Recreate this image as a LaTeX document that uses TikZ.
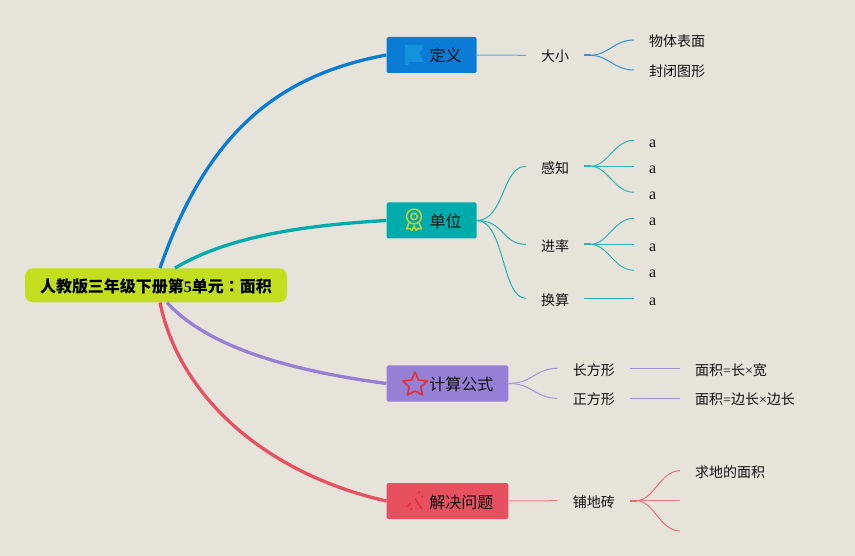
\documentclass[tikz,border=0pt]{standalone}
\usepackage{fontspec}
\setmainfont{Liberation Serif}
\newfontfamily\cjk{Noto Sans CJK SC}
\newfontfamily\cjktc{Noto Sans CJK TC}
\definecolor{bgc}{HTML}{E6E3DB}
\definecolor{rootc}{HTML}{C2DE1E}
\definecolor{bluec}{HTML}{0A7CD6}
\definecolor{tealc}{HTML}{00ABAB}
\definecolor{purpc}{HTML}{9480D4}
\definecolor{redc}{HTML}{E6505F}
\definecolor{txt}{HTML}{111111}
\definecolor{flagc}{HTML}{1592DE}
\definecolor{medalc}{HTML}{C8D030}
\definecolor{iconred}{HTML}{E0303C}
\tikzset{
  x=1pt,y=-1pt,
  rootbox/.style={rectangle,rounded corners=8pt,fill=rootc,minimum width=262pt,minimum height=34pt,inner sep=0pt,text=black,font=\fontsize{16}{16}\selectfont\cjk\bfseries,text height=14.5pt,text depth=0.5pt},
  branchbox/.style={rectangle,rounded corners=1.5pt,fill=#1,minimum height=36pt,inner xsep=15pt,inner ysep=0pt,align=right,text=txt,font=\fontsize{16}{16}\selectfont\cjk,text height=14.5pt,text depth=0.5pt},
  subtxt/.style={rectangle,inner xsep=0pt,inner ysep=0pt,text=txt,font=\fontsize{14}{14}\selectfont\cjk,text height=13pt,text depth=0.4pt,align=center},
  subtxtlow/.style={subtxt,text height=14pt,text depth=0.4pt},
  leaftxt/.style={subtxt,anchor=west,inner xsep=15pt},
  atxt/.style={leaftxt,font=\fontsize{16}{16}\selectfont\rmfamily,text height=14pt,text depth=0.4pt},
  trunk/.style={draw=#1,line width=3.3pt},
  twig/.style={draw=#1,line width=1pt},
  stub/.style={draw=#1,line width=2pt},
}
\begin{document}
\begin{tikzpicture}
\useasboundingbox (0,0) rectangle (855,556);
\fill[bgc] (0,0) rectangle (855,556);
% main nodes
\node[rootbox] (root) at (156,285.3) {人教版三年级下册第{\rmfamily 5}单元{\cjktc\bfseries ：}面积};
\node[branchbox=bluec,text width=60pt] (dy) at (431.5,55) {定义};
\node[branchbox=tealc,text width=60pt] (dw) at (431.5,220.5) {单位};
\node[branchbox=purpc,text width=91.6pt] (js) at (447.5,383.5) {计算公式};
\node[branchbox=redc,text width=91.6pt] (jj) at (447.5,501) {解决问题};
% second level
\node[subtxt,minimum width=58pt] (dx) at (555,55.3) {大小};
\node[subtxtlow,minimum width=58pt] (gz) at (555,166.3) {感知};
\node[subtxtlow,minimum width=58pt] (jl) at (555,244.3) {进率};
\node[subtxtlow,minimum width=58pt] (hs) at (555,298.3) {换算};
\node[subtxtlow,minimum width=72.3pt] (cfx) at (593.8,368.3) {长方形};
\node[subtxt,minimum width=72.3pt] (zfx) at (593.8,398.3) {正方形};
\node[subtxt,minimum width=72.3pt] (pdz) at (593.8,500.7) {铺地砖};
% leaves
\node[leaftxt] (l1) at (634,40) {物体表面};
\node[leaftxt] (l2) at (634,70) {封闭图形};
\node[atxt] (a1) at (634,140.3) {a};
\node[atxt] (a2) at (634,166.3) {a};
\node[atxt] (a3) at (634,192.3) {a};
\node[atxt] (a4) at (634,218.3) {a};
\node[atxt] (a5) at (634,244.3) {a};
\node[atxt] (a6) at (634,270.3) {a};
\node[atxt] (a7) at (634,298.3) {a};
\node[leaftxt,text height=14pt] (f1) at (680,368.3) {面积{\rmfamily =}长{\rmfamily ×}宽};
\node[leaftxt] (f2) at (680,398.3) {面积{\rmfamily =}边长{\rmfamily ×}边长};
\node[leaftxt] (q1) at (680,470.7) {求地的面积};
\coordinate (q2) at (680,500.7);
\coordinate (q3) at (680,531);
% trunks
\draw[trunk=bluec] ([xshift=4pt]root.north) .. controls (208,130) and (280,75) .. (dy.west);
\draw[trunk=tealc] ([xshift=19pt]root.north) .. controls (230,235) and (310,225) .. (dw.west);
\draw[trunk=purpc] ([xshift=11pt]root.south) .. controls (210,350) and (300,372) .. (js.west);
\draw[trunk=redc] ([xshift=4pt]root.south) .. controls (180,400) and (270,475) .. (jj.west);
% blue twigs
\draw[twig=bluec!60!bgc] (dy.east) -- (dx.west);
\foreach \e in {l1,l2}
  \draw[twig=bluec!80!bgc] ([xshift=6pt]dx.east) .. controls +(18,0) and +(-20,0) .. (\e.west);
\draw[stub=bluec!80!bgc] (dx.east) -- +(7,0);
% teal twigs
\foreach \e in {gz,jl,hs}
  \draw[twig=tealc!85!bgc] (dw.east) .. controls +(28,0) and +(-24,0) .. (\e.west);
\foreach \e in {a1,a2,a3}
  \draw[twig=tealc!80!bgc] ([xshift=6pt]gz.east) .. controls +(18,0) and +(-20,0) .. (\e.west);
\foreach \e in {a4,a5,a6}
  \draw[twig=tealc!80!bgc] ([xshift=6pt]jl.east) .. controls +(18,0) and +(-20,0) .. (\e.west);
\draw[twig=tealc!85!bgc] (hs.east) -- (a7.west);
\draw[stub=tealc!80!bgc] (gz.east) -- +(7,0);
\draw[stub=tealc!80!bgc] (jl.east) -- +(7,0);
% purple twigs
\foreach \e in {cfx,zfx}
  \draw[twig=purpc!80!bgc] (js.east) .. controls +(24,0) and +(-22,0) .. (\e.west);
\draw[twig=purpc!85!bgc] (cfx.east) -- (f1.west);
\draw[twig=purpc!85!bgc] (zfx.east) -- (f2.west);
% red twigs
\draw[twig=redc!70!bgc] (jj.east) -- (pdz.west);
\draw[twig=redc!80!bgc] ([xshift=6pt]pdz.east) .. controls +(18,0) and +(-20,0) .. (q1.west);
\draw[twig=redc!70!bgc] (pdz.east) -- (q2);
\draw[twig=redc!80!bgc] ([xshift=6pt]pdz.east) .. controls +(18,0) and +(-20,0) .. (q3);
\draw[stub=redc!80!bgc] (pdz.east) -- +(7,0);
% flag icon
\fill[flagc] (405,45) -- (424,45) -- (419.5,53.5) -- (424,62) -- (408.5,62) -- (408.5,65) -- (405,65) -- cycle;
% medal icon
\begin{scope}[draw=medalc,line width=1.5pt]
  \draw (414,216.5) circle (7.4pt);
  \draw (414,216.5) circle (3.2pt);
  \draw[line join=round] (409,223) -- (406.5,229) -- (410,228.5) -- (412,230.5) -- (414,226) -- (416,230.5) -- (418,228.5) -- (421.5,229) -- (419,223);
\end{scope}
% star icon
\draw[draw=iconred,line width=1.6pt,line join=round]
  (415,372) -- (418.6,380) -- (427.2,381) -- (420.8,387) -- (422.6,395) -- (415,391) -- (407.4,395) -- (409.2,387) -- (402.8,381) -- (411.4,380) -- cycle;
% wand icon
\begin{scope}[iconred]
  \draw[line width=1.6pt] (415,498.5) -- (422,509);
  \draw[line width=1.6pt] (410.5,503) -- (407.5,506.5);
  \draw[line width=1.4pt] (412,508) -- (410.5,510);
  \draw[line width=1.4pt] (418,493) -- (420,491.5);
  \draw[line width=1.2pt] (421.5,497.5) -- (423,496);
\end{scope}
\end{tikzpicture}
\end{document}
